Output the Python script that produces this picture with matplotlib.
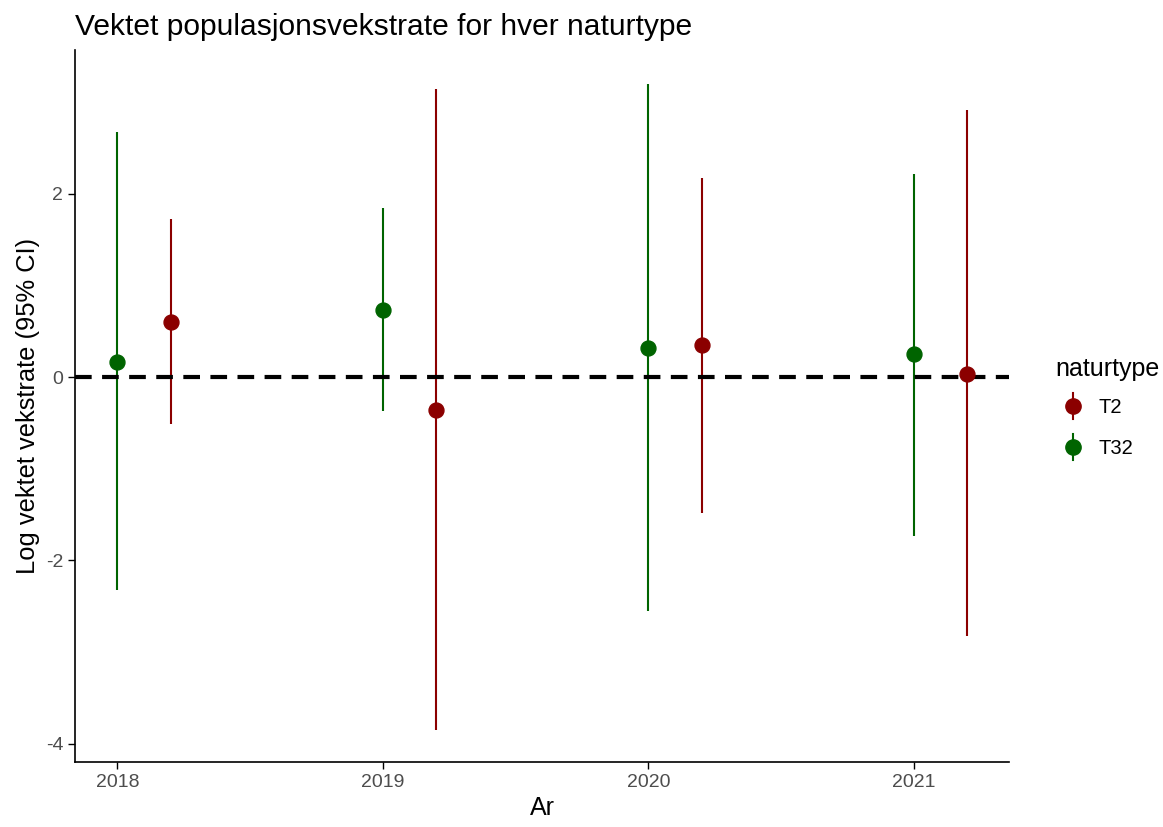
import numpy as np
import matplotlib
matplotlib.use('Agg')
import matplotlib.pyplot as plt
from matplotlib.lines import Line2D
from matplotlib.legend_handler import HandlerBase

plt.rcParams['font.family'] = ['Liberation Sans', 'DejaVu Sans']
plt.rcParams['axes.unicode_minus'] = False

# data
years = [2018, 2019, 2020, 2021]
t2_est = [0.60, -0.36, 0.35, 0.03]
t2_lo = [-0.51, -3.85, -1.48, -2.83]
t2_hi = [1.73, 3.14, 2.17, 2.91]
t32_est = [0.17, 0.73, 0.32, 0.25]
t32_lo = [-2.32, -0.37, -2.55, -1.73]
t32_hi = [2.68, 1.85, 3.20, 2.22]

red = '#8B0000'
green = '#006400'

fig = plt.figure(figsize=(11.63, 8.27), dpi=100)
ax = fig.add_axes([0.0645, 0.0786, 0.8035, 0.861])

x = np.array(years, dtype=float)
ax.vlines(x, t32_lo, t32_hi, color=green, lw=1.5)
ax.scatter(x, t32_est, s=115, color=green, zorder=3)
ax.vlines(x + 0.2, t2_lo, t2_hi, color=red, lw=1.5)
ax.scatter(x + 0.2, t2_est, s=115, color=red, zorder=3)

ax.axhline(0, color='black', lw=3, ls=(0, (4, 2.5)), zorder=2)

ax.set_xlim(2017.84, 2021.36)
ax.set_ylim(-4.2, 3.57)
ax.set_xticks(years)
ax.set_xticklabels([str(y) for y in years])
ax.set_yticks([-4, -2, 0, 2])
ax.tick_params(labelsize=14, labelcolor='#4d4d4d', color='black', length=5, width=1)
for s in ['top', 'right']:
    ax.spines[s].set_visible(False)
for s in ['left', 'bottom']:
    ax.spines[s].set_linewidth(1.2)

ax.set_xlabel('Ar', fontsize=18, labelpad=4)
ax.set_ylabel('Log vektet vekstrate (95% CI)', fontsize=18.4, labelpad=4)
ax.set_title('Vektet populasjonsvekstrate for hver naturtype', fontsize=21.6, loc='left', x=0.0, pad=11)


class VHandler(HandlerBase):
    def create_artists(self, legend, orig, xd, yd, w, h, fontsize, trans):
        cx = xd + w / 2
        ln = Line2D([cx, cx], [yd - h * 0.4, yd + h * 1.4], color=orig.get_color(), lw=1.5, transform=trans)
        mk = Line2D([cx], [yd + h / 2], marker='o', markersize=11, color=orig.get_color(), transform=trans)
        return [ln, mk]


handles = [Line2D([0], [0], color=red), Line2D([0], [0], color=green)]
leg = fig.legend(handles, ['T2', 'T32'], title='naturtype', loc='center left',
                 bbox_to_anchor=(0.8985, 0.507), frameon=False, fontsize=14.5,
                 title_fontsize=18, handler_map={Line2D: VHandler()},
                 handlelength=1.8, labelspacing=1.1, handletextpad=0.35,
                 borderpad=0.0)
leg._legend_box.align = 'left'
leg._legend_box.sep = 12

fig.savefig('out.png', dpi=100)
